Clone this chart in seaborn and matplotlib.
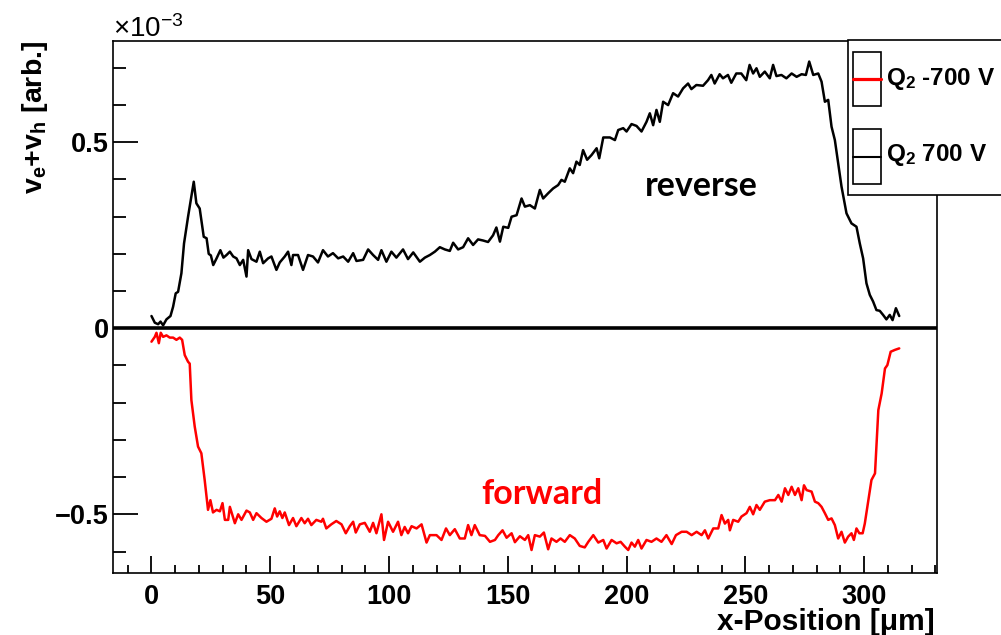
import matplotlib
matplotlib.use("Agg")
import matplotlib.pyplot as plt
import numpy as np
import pandas as pd
import seaborn as sns
from matplotlib.ticker import MultipleLocator, FixedLocator
from matplotlib.patches import Rectangle
from matplotlib.lines import Line2D

# ---------------- data (y in units of 1e-3) ----------------
rev_x = [0, 1.4, 2.8, 3.8, 4.9, 6.3, 8.0, 9.1, 10.2, 11.2, 12.6, 13.7, 15.4, 16.8, 17.8, 18.9,
         20.3, 22.0, 23.2, 24.1, 25.0, 26.0, 27.4, 29.0, 30.3, 31.6, 33.0, 34.4, 35.8, 37.2, 38.6,
         40.0, 40.7, 42.1, 44.2, 45.6, 47.0, 49.1, 50.5, 52.6, 54.0, 56.1, 57.5, 58.9, 59.6, 61.7,
         63.8, 65.9, 68.0, 70.1, 72.2, 74.3, 76.4, 78.6, 80.7, 82.8, 84.9, 86.3, 89.1, 91.2, 93.3,
         95.4, 96.8, 98.9, 101.0, 103.1, 105.9, 108.0, 110.2, 113.0, 115.1, 117.2, 119.3, 121.4,
         123.5, 125.6, 127.0, 129.1, 131.2, 133.3, 135.4, 137.5, 139.6, 141.7, 143.8, 145.2, 146.7,
         148.1, 150.2, 151.6, 153.7, 155.8, 157.2, 159.3, 161.4, 163.5, 164.9, 167.0, 169.1, 171.2,
         172.6, 174.0, 176.1, 177.5, 178.9, 180.3, 181.7, 183.4, 185.3, 187.4, 188.5, 190.2, 193.0,
         195.1, 196.5, 198.6, 200.0, 202.1, 204.2, 206.3, 208.4, 209.8, 211.2, 212.6, 214.0, 215.4,
         217.5, 219.6, 221.7, 223.8, 225.9, 227.3, 229.4, 232.2, 234.3, 235.7, 237.1, 239.2, 240.6,
         242.7, 244.1, 246.2, 248.3, 250.4, 251.8, 253.3, 254.7, 256.1, 258.2, 260.3, 261.7, 263.1,
         265.2, 267.3, 269.5, 271.6, 273.7, 275.5, 276.9, 278.6, 280.7, 282.1, 283.5, 284.9, 286.3,
         287.7, 289.1, 290.5, 292.6, 294.7, 296.8, 298.2, 299.6, 301.0, 302.4, 303.8, 305.2, 306.6,
         308.0, 309.4, 310.8, 312.0, 313.4, 314.8]
rev_y = [0.033, 0.015, 0.011, 0.018, 0.008, 0.024, 0.033, 0.058, 0.094, 0.098, 0.148, 0.228, 0.300,
         0.354, 0.394, 0.336, 0.322, 0.246, 0.242, 0.200, 0.196, 0.170, 0.188, 0.210, 0.190, 0.197,
         0.206, 0.193, 0.188, 0.170, 0.184, 0.139, 0.210, 0.186, 0.179, 0.206, 0.175, 0.188, 0.193,
         0.157, 0.177, 0.193, 0.206, 0.170, 0.197, 0.197, 0.157, 0.197, 0.193, 0.177, 0.210, 0.193,
         0.202, 0.188, 0.193, 0.179, 0.202, 0.181, 0.184, 0.212, 0.197, 0.184, 0.210, 0.179, 0.206,
         0.190, 0.212, 0.186, 0.204, 0.179, 0.190, 0.197, 0.206, 0.218, 0.212, 0.208, 0.230, 0.212,
         0.218, 0.242, 0.224, 0.239, 0.236, 0.232, 0.250, 0.271, 0.233, 0.273, 0.270, 0.300, 0.304,
         0.349, 0.327, 0.331, 0.322, 0.372, 0.349, 0.363, 0.376, 0.385, 0.399, 0.394, 0.430, 0.417,
         0.448, 0.439, 0.479, 0.453, 0.466, 0.484, 0.457, 0.513, 0.513, 0.506, 0.533, 0.538, 0.529,
         0.549, 0.544, 0.529, 0.555, 0.578, 0.546, 0.587, 0.555, 0.609, 0.600, 0.632, 0.623, 0.645,
         0.658, 0.643, 0.654, 0.652, 0.667, 0.681, 0.658, 0.683, 0.672, 0.681, 0.660, 0.685, 0.685,
         0.667, 0.708, 0.685, 0.699, 0.676, 0.690, 0.672, 0.708, 0.678, 0.681, 0.672, 0.685, 0.676,
         0.683, 0.681, 0.717, 0.681, 0.685, 0.663, 0.609, 0.614, 0.542, 0.506, 0.444, 0.381, 0.309,
         0.282, 0.273, 0.228, 0.188, 0.121, 0.090, 0.072, 0.049, 0.047, 0.036, 0.024, 0.036, 0.022,
         0.054, 0.033]

fwd_x = [0, 1.4, 2.1, 3.1, 3.9, 4.9, 6.3, 7.7, 9.1, 10.5, 11.9, 12.9, 14.0, 15.4, 16.1, 16.8, 18.2,
         19.6, 21.0, 22.4, 23.8, 24.8, 25.9, 27.4, 28.8, 29.9, 30.9, 32.3, 33.0, 35.1, 36.5, 37.9,
         40.0, 41.4, 42.8, 44.2, 46.3, 48.4, 50.5, 51.9, 52.9, 54.0, 55.1, 56.1, 57.9, 59.6, 61.0,
         63.1, 64.5, 65.9, 67.3, 69.4, 71.5, 72.2, 73.6, 75.7, 77.8, 80.0, 81.8, 83.5, 84.9, 86.0,
         87.7, 89.8, 91.9, 93.3, 94.7, 96.8, 97.9, 99.6, 101.7, 103.8, 105.2, 106.6, 108.0, 109.5,
         111.6, 113.7, 115.8, 117.2, 120.0, 122.1, 124.0, 125.6, 127.7, 129.8, 131.9, 133.3, 134.7,
         136.1, 138.2, 140.4, 142.5, 144.6, 146.0, 147.8, 149.5, 151.6, 153.0, 155.1, 157.2, 158.6,
         160.0, 161.4, 163.5, 165.2, 167.0, 168.4, 170.5, 172.2, 174.0, 176.1, 178.2, 180.3, 182.4,
         183.9, 186.0, 188.1, 190.2, 191.6, 193.7, 195.8, 197.5, 199.3, 200.7, 202.1, 203.5, 204.9,
         206.3, 208.4, 210.5, 212.6, 214.7, 216.8, 219.0, 220.8, 223.2, 225.3, 227.4, 229.5, 231.6,
         233.0, 234.4, 236.5, 238.6, 240.0, 241.4, 242.8, 243.5, 244.9, 247.0, 248.4, 250.5, 251.9,
         253.3, 254.7, 256.1, 258.2, 260.3, 262.5, 263.9, 265.3, 266.7, 268.1, 269.5, 270.9, 272.3,
         273.7, 274.7, 275.8, 277.9, 279.3, 280.7, 282.1, 283.5, 284.9, 286.3, 287.7, 289.1, 290.5,
         291.9, 293.3, 294.7, 295.7, 296.8, 298.0, 299.4, 300.3, 301.8, 303.1, 304.6, 306.0, 307.4,
         308.8, 309.8, 311.2, 313.0, 314.8]
fwd_y = [-0.036, -0.023, -0.012, -0.040, -0.012, -0.023, -0.019, -0.025, -0.025, -0.031, -0.025,
         -0.031, -0.072, -0.090, -0.095, -0.193, -0.264, -0.318, -0.336, -0.408, -0.488, -0.462,
         -0.495, -0.488, -0.492, -0.470, -0.515, -0.515, -0.480, -0.524, -0.500, -0.515, -0.490,
         -0.495, -0.515, -0.497, -0.510, -0.520, -0.512, -0.484, -0.506, -0.492, -0.510, -0.495,
         -0.529, -0.510, -0.532, -0.510, -0.524, -0.512, -0.529, -0.515, -0.520, -0.512, -0.538,
         -0.527, -0.518, -0.527, -0.551, -0.532, -0.520, -0.549, -0.527, -0.523, -0.547, -0.523,
         -0.551, -0.500, -0.569, -0.520, -0.547, -0.520, -0.556, -0.534, -0.551, -0.532, -0.538,
         -0.527, -0.576, -0.556, -0.556, -0.569, -0.538, -0.556, -0.540, -0.565, -0.565, -0.529,
         -0.556, -0.529, -0.556, -0.558, -0.574, -0.569, -0.556, -0.543, -0.563, -0.551, -0.575,
         -0.559, -0.569, -0.556, -0.596, -0.556, -0.560, -0.549, -0.594, -0.565, -0.574, -0.565,
         -0.574, -0.556, -0.565, -0.585, -0.589, -0.574, -0.556, -0.576, -0.569, -0.592, -0.569,
         -0.578, -0.574, -0.587, -0.596, -0.576, -0.587, -0.569, -0.592, -0.569, -0.574, -0.565,
         -0.574, -0.556, -0.580, -0.556, -0.547, -0.547, -0.556, -0.547, -0.556, -0.543, -0.565,
         -0.538, -0.538, -0.502, -0.525, -0.515, -0.543, -0.515, -0.520, -0.506, -0.497, -0.480,
         -0.500, -0.475, -0.488, -0.466, -0.462, -0.462, -0.448, -0.466, -0.430, -0.448, -0.426,
         -0.448, -0.430, -0.462, -0.422, -0.435, -0.439, -0.466, -0.470, -0.480, -0.497, -0.515,
         -0.511, -0.529, -0.565, -0.547, -0.576, -0.560, -0.551, -0.569, -0.538, -0.551, -0.551,
         -0.525, -0.462, -0.408, -0.390, -0.220, -0.175, -0.108, -0.099, -0.063, -0.058, -0.054]

series_names = ["Q2 -700 V", "Q2 700 V"]
legend_labels = [r"$\mathbf{Q_2}$ -700 V", r"$\mathbf{Q_2}$ 700 V"]
series_colors = ["#ff0000", "#000000"]
y_ticks = [-0.5, 0.0, 0.5]
y_tick_labels = ["\u22120.5", "0", "0.5"]
x_ticks = [0, 50, 100, 150, 200, 250, 300]
x_tick_labels = ["0", "50", "100", "150", "200", "250", "300"]

# ---------------- style ----------------
sns.set_style("white")
plt.rcParams["font.family"] = ["Liberation Sans", "DejaVu Sans"]
plt.rcParams["mathtext.fontset"] = "custom"
plt.rcParams["mathtext.rm"] = "Liberation Sans"
plt.rcParams["mathtext.bf"] = "Liberation Sans:bold"
plt.rcParams["mathtext.it"] = "Liberation Sans:italic"
plt.rcParams["text.color"] = "black"
plt.rcParams["xtick.color"] = "black"
plt.rcParams["ytick.color"] = "black"

df = pd.concat([
    pd.DataFrame({"x": fwd_x, "y": fwd_y, "s": series_names[0]}),
    pd.DataFrame({"x": rev_x, "y": rev_y, "s": series_names[1]}),
], ignore_index=True)

W, H = 1001, 635
fig = plt.figure(figsize=(W / 100, H / 100), dpi=100)
ax = fig.add_axes([113 / W, 1 - 573.3 / H, (937 - 113) / W, (573.3 - 41) / H])

sns.lineplot(data=df, x="x", y="y", hue="s", palette=dict(zip(series_names, series_colors)),
             estimator=None, sort=False, legend=False, linewidth=1.8, ax=ax)

ax.axhline(0, color="black", lw=2.6, zorder=5)

ax.set_xlim(-16.2, 330.7)
ax.set_ylim(-0.6586, 0.7723)
ax.set_xlabel("")
ax.set_ylabel("")

ax.xaxis.set_major_locator(FixedLocator(x_ticks))
ax.set_xticklabels(x_tick_labels, fontweight="bold")
ax.xaxis.set_minor_locator(MultipleLocator(10))
ax.yaxis.set_major_locator(FixedLocator(y_ticks))
ax.set_yticklabels(y_tick_labels, fontweight="bold")
ax.yaxis.set_minor_locator(MultipleLocator(0.1))

ax.tick_params(axis="both", which="both", direction="in", color="black", width=1.3,
               bottom=True, left=True, top=False, right=False,
               labelsize=19.5, labelcolor="black")
ax.tick_params(axis="y", which="major", length=18, pad=3)
ax.tick_params(axis="y", which="minor", length=9.4)
ax.tick_params(axis="x", which="major", length=12, pad=8)
ax.tick_params(axis="x", which="minor", length=6)
for sp in ax.spines.values():
    sp.set_visible(True)
    sp.set_color("black")
    sp.set_linewidth(1.2)

# annotations
ax.text(207.7, 0.356, "reverse", fontsize=24.5, fontweight="bold", family=["Lato", "DejaVu Sans"],
        color="black", ha="left", va="baseline")
ax.text(138.9, -0.472, "forward", fontsize=24.5, fontweight="bold", family=["Lato", "DejaVu Sans"],
        color="#ff0000", ha="left", va="baseline")

# axis titles
fig.text(935 / W, 1 - 630.5 / H, "x-Position [\u03bcm]", fontsize=21.5, fontweight="bold",
         color="black", ha="right", va="baseline")
fig.text(42 / W, 1 - 41 / H, r"$\mathbf{v_e}$+$\mathbf{v_h}$ [arb.]", fontsize=20.5,
         fontweight="bold", color="black", rotation=90, rotation_mode="anchor",
         ha="right", va="baseline")
fig.text(113 / W, 1 - 37 / H, "\u00d710$^{\\mathrm{-3}}$", fontsize=20, color="black",
         ha="left", va="baseline")

# legend box (ROOT style)
fig.add_artist(Rectangle((848 / W, 1 - 195 / H), (1015 - 848) / W, (195 - 40) / H,
                         transform=fig.transFigure, facecolor="white", edgecolor="black",
                         lw=1.2, zorder=10, clip_on=False))
entry_tops = [52, 129]
entry_bots = [106, 184]
baselines = [85, 161.5]
line_w = [2.3, 1.5]
for i in range(2):
    fig.add_artist(Rectangle((853 / W, 1 - entry_bots[i] / H), (881 - 853) / W,
                             (entry_bots[i] - entry_tops[i]) / H, transform=fig.transFigure,
                             facecolor="white", edgecolor="black", lw=1.2, zorder=11))
    ym = 1 - (entry_tops[i] + entry_bots[i]) / 2 / H
    fig.add_artist(Line2D([853 / W, 881 / W], [ym, ym], transform=fig.transFigure,
                          color=series_colors[i], lw=line_w[i], zorder=12))
    fig.text(886 / W, 1 - baselines[i] / H, legend_labels[i], fontsize=17.5, fontweight="bold",
             color="black", ha="left", va="baseline", zorder=13)

fig.savefig("out.png", dpi=100)
